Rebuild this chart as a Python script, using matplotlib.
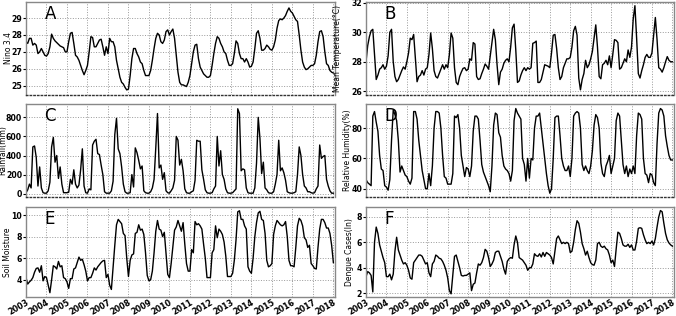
import matplotlib
matplotlib.use('Agg')
import matplotlib.pyplot as plt
import numpy as np

# monthly values, Jan 2003 .. Jan 2018
nino34 = [
    27.6, 27.5, 27.8, 27.8, 27.4, 27.5, 27.4, 26.9, 27.0, 27.2, 27.0, 26.8,
    26.75, 26.9, 27.3, 28.05, 27.8, 27.65, 27.55, 27.45, 27.35, 27.3, 27.25, 27.0,
    27.0, 27.6, 28.1, 28.15, 27.5, 26.8, 26.7, 26.5, 26.2, 25.9, 25.65, 25.9,
    26.2, 27.0, 27.9, 27.85, 27.3, 27.3, 27.5, 27.7, 27.75, 27.3, 26.8, 27.3,
    26.9, 27.8, 27.6, 27.6, 27.3, 26.5, 26.0, 25.5, 25.2, 25.1, 24.9, 24.75,
    24.8, 25.6, 26.6, 27.2, 27.2, 26.9, 26.7, 26.4, 26.3, 25.9, 25.6, 25.6,
    25.6, 25.9, 26.5, 27.2, 27.8, 28.1, 28.0, 27.6, 27.5, 27.7, 28.2, 28.3,
    28.0, 28.2, 28.35, 27.8, 26.8, 25.8, 25.2, 25.05, 25.05, 25.0, 24.95, 25.2,
    25.6, 26.3, 27.0, 27.4, 27.45, 26.6, 26.1, 25.9, 25.7, 25.6, 25.5, 25.5,
    25.6, 26.2, 26.9, 27.5, 27.9, 27.8, 27.5, 27.3, 27.0, 26.9, 26.5, 26.2,
    26.2, 26.3, 26.9, 27.65, 27.5, 26.9, 26.6, 26.6, 26.4, 26.6, 26.4, 26.1,
    26.15, 26.4, 27.2, 28.1, 28.25, 27.8, 27.1, 27.1, 27.2, 27.4, 27.3, 27.15,
    27.1, 27.3, 27.7, 28.4, 28.85, 28.95, 28.9, 29.0, 29.15, 29.4, 29.6, 29.4,
    29.3, 29.1, 28.9, 28.8, 28.0, 27.1, 26.4, 26.1, 25.95, 26.0, 26.1, 26.2,
    26.2, 26.3, 26.8, 27.6, 28.2, 28.25, 27.9, 27.0, 26.3, 26.2, 25.9, 25.8,
    25.75,
]

mean_temp = [
    28.0, 29.1, 29.7, 30.1, 30.2, 28.5, 26.8, 27.1, 27.5, 27.6, 27.8, 27.5,
    27.7, 28.4, 30.0, 30.2, 28.0, 27.0, 26.65, 26.8, 27.1, 27.4, 27.65, 27.5,
    28.0, 28.6, 29.6, 29.5, 29.85, 28.3, 26.65, 27.0, 27.1, 27.4, 27.1, 27.5,
    27.6, 28.5, 29.95, 28.9, 27.4, 27.0, 26.9, 27.2, 27.5, 27.8, 27.5, 27.8,
    27.6, 28.5, 29.95, 29.6, 27.6, 26.6, 26.45, 27.0, 27.3, 27.55, 27.6, 27.4,
    27.5, 28.2, 28.1, 29.3, 29.2, 27.0, 26.8, 26.85, 27.2, 27.5, 27.85, 27.7,
    27.5, 28.4, 29.3, 30.2, 29.5, 27.8, 26.45, 27.3, 27.5, 27.9, 28.1, 28.2,
    28.0, 29.0, 30.3, 30.55, 28.8, 26.6, 26.7, 27.1, 27.4, 27.6, 27.4, 27.6,
    27.5, 27.6, 29.25, 29.3, 29.4, 26.6, 26.6, 26.8, 27.3, 27.8, 27.75, 27.7,
    27.6, 28.6, 29.8, 29.85, 28.9, 27.6, 26.8, 27.0, 27.6, 27.9, 28.2, 28.2,
    28.3, 29.0, 30.1, 30.4, 29.8, 26.9, 26.1, 26.8, 27.2, 28.1, 27.6, 27.8,
    28.2, 28.7, 29.6, 30.5, 29.0, 27.0, 26.85, 27.8, 27.9, 28.1, 27.8, 28.4,
    27.6, 28.5, 29.5, 29.45, 29.3, 27.5, 27.6, 27.9, 28.2, 28.0, 28.8, 28.3,
    29.0, 30.9, 31.8, 29.6, 27.2, 26.9, 27.4, 27.8, 28.3, 28.5, 28.3, 28.3,
    28.6, 29.8, 31.0, 29.5, 27.6, 27.5, 27.3, 27.6, 28.0, 28.35, 28.1, 28.0,
    28.0,
]

rainfall = [
    10, 40, 100, 60, 490, 500, 380, 80, 280, 60, 10, 5,
    5, 30, 120, 490, 590, 330, 400, 160, 280, 100, 10, 10,
    10, 15, 150, 100, 250, 100, 60, 90, 250, 470, 80, 10,
    5, 50, 40, 510, 550, 570, 420, 410, 300, 200, 20, 5,
    5, 5, 30, 130, 620, 790, 470, 420, 280, 100, 20, 5,
    5, 10, 200, 70, 480, 430, 350, 260, 290, 30, 10, 5,
    5, 20, 60, 150, 480, 840, 270, 300, 150, 220, 30, 10,
    5, 30, 60, 140, 600, 560, 300, 360, 240, 50, 10, 5,
    5, 20, 30, 140, 560, 550, 550, 250, 150, 40, 10, 5,
    5, 10, 50, 80, 600, 290, 450, 200, 150, 50, 10, 5,
    5, 10, 30, 50, 890, 840, 240, 260, 250, 60, 10, 5,
    5, 5, 60, 320, 800, 580, 210, 330, 60, 40, 10, 5,
    5, 20, 100, 200, 560, 240, 270, 220, 140, 20, 10, 5,
    5, 10, 20, 200, 490, 400, 200, 80, 60, 20, 20, 10,
    5, 10, 50, 80, 510, 370, 390, 400, 150, 80, 30, 5,
    5,
]

humidity = [
    46, 44, 43, 42, 88, 91, 84, 78, 62, 53, 52, 42,
    41, 39, 46, 72, 92, 89, 85, 72, 51, 55, 52, 49,
    48, 45, 43, 47, 91, 91, 86, 72, 62, 52, 46, 40,
    40, 50, 42, 55, 80, 91, 91, 90, 80, 62, 48, 47,
    43, 43, 43, 50, 88, 87, 89, 80, 62, 55, 48, 54,
    53, 48, 55, 78, 88, 88, 86, 72, 56, 51, 48, 45,
    42, 38, 55, 82, 90, 89, 77, 74, 62, 55, 53, 52,
    50, 45, 52, 85, 93, 90, 88, 86, 60, 56, 45, 60,
    47, 60, 59, 80, 88, 88, 90, 80, 70, 60, 50, 42,
    37, 40, 60, 87, 88, 88, 75, 60, 55, 52, 52, 55,
    48, 60, 88, 90, 91, 90, 80, 56, 52, 55, 52, 50,
    55, 65, 82, 89, 87, 80, 57, 50, 48, 55, 58, 62,
    50, 55, 60, 85, 90, 88, 72, 56, 50, 55, 48, 53,
    50, 55, 50, 75, 90, 89, 86, 60, 50, 49, 44, 50,
    49, 44, 42, 70, 90, 93, 92, 88, 75, 68, 62, 59,
    59,
]

soil_moisture = [
    4.2, 3.6, 3.8, 3.95, 4.2, 4.7, 5.05, 5.1, 4.7, 5.3, 3.9, 4.3,
    4.2, 3.5, 2.8, 4.0, 5.3, 5.2, 5.0, 5.7, 5.2, 5.3, 4.2, 4.1,
    3.8, 3.2, 4.1, 4.1, 5.0, 5.1, 5.6, 6.1, 5.8, 5.9, 5.4, 4.8,
    3.9, 4.2, 4.2, 4.6, 5.1, 4.9, 5.2, 5.4, 5.6, 5.75, 5.8, 4.2,
    4.5, 3.5, 3.1, 5.2, 7.2, 9.1, 9.6, 9.4, 9.2, 8.3, 8.1, 6.0,
    4.3, 5.8, 6.3, 6.4, 8.3, 8.4, 9.1, 8.6, 8.7, 8.2, 6.5, 4.4,
    3.9, 4.0, 4.8, 6.5, 8.5, 9.5, 8.7, 8.6, 8.0, 8.4, 6.5, 4.5,
    4.2, 5.5, 7.1, 8.6, 8.9, 9.5, 9.0, 8.5, 9.3, 7.3, 5.5, 4.8,
    4.8, 6.8, 6.5, 9.4, 9.1, 9.2, 9.0, 8.7, 7.3, 6.0, 4.2, 4.2,
    4.2, 6.5, 6.8, 9.0, 7.9, 8.7, 8.5, 8.2, 7.5, 6.2, 4.3, 4.3,
    4.3, 4.6, 5.8, 7.7, 10.3, 10.4, 9.6, 9.6, 9.0, 8.7, 5.2, 4.8,
    4.6, 6.0, 8.0, 9.3, 10.2, 10.35, 9.6, 9.5, 8.3, 5.8, 5.2, 5.3,
    5.5, 8.2, 9.0, 9.5, 9.3, 9.1, 9.0, 9.1, 9.4, 8.0, 5.8, 5.3,
    5.3, 5.2, 7.0, 9.0, 9.7, 9.5, 9.0, 7.9, 7.7, 7.0, 7.2, 5.5,
    5.3, 5.05, 5.0, 7.0, 8.7, 9.6, 9.6, 9.3, 8.8, 8.8, 8.3, 7.2,
    5.6,
]

dengue_ln = [
    3.3, 3.7, 3.6, 3.4, 2.1, 6.0, 7.2, 6.7, 5.8, 5.3, 4.8, 4.4,
    3.3, 3.3, 3.5, 3.05, 3.5, 5.3, 6.4, 5.4, 5.0, 4.6, 4.3, 4.4,
    4.2, 3.8, 3.2, 3.1, 4.4, 4.6, 4.8, 5.0, 5.0, 4.9, 4.6, 4.3,
    4.4, 3.6, 3.3, 4.3, 4.5, 5.0, 4.9, 4.75, 4.7, 4.5, 4.2, 3.8,
    3.2, 2.2, 1.95, 3.4, 4.9, 5.0, 4.5, 4.0, 3.4, 3.35, 3.4, 3.4,
    3.5, 3.6, 2.2, 2.7, 2.8, 3.6, 4.3, 4.2, 4.4, 4.8, 5.45, 5.3,
    4.8, 4.1, 4.3, 4.6, 5.2, 5.3, 5.3, 4.9, 4.5, 3.9, 3.5, 4.5,
    4.7, 4.8, 4.75, 5.8, 6.5, 6.0, 4.8, 4.7, 4.6, 4.4, 4.2, 3.8,
    4.0, 4.0, 4.3, 5.1, 4.95, 4.9, 5.1, 4.85, 5.2, 4.9, 5.2, 5.1,
    5.0, 4.8, 4.3, 5.3, 6.3, 6.5, 6.2, 5.9, 6.0, 5.9, 6.0, 5.9,
    5.2, 5.3, 6.0, 7.0, 7.7, 7.5, 6.8, 5.9, 5.5, 5.0, 5.3, 4.8,
    4.4, 4.25, 4.2, 4.6, 5.9, 6.0, 5.7, 5.6, 5.7, 5.5, 5.4, 5.0,
    4.4, 4.6, 4.1, 5.5, 6.8, 6.7, 6.3, 5.8, 5.7, 5.7, 5.85, 5.6,
    5.8, 5.4, 5.4, 6.1, 7.1, 7.15, 7.1, 6.6, 6.2, 5.9, 6.0, 5.9,
    6.1, 5.8, 6.3, 7.2, 8.0, 8.5, 8.4, 7.5, 6.7, 6.2, 5.95, 5.8,
    5.7,
]

years = list(range(2003, 2019))

panels = [
    ('A', nino34, 'Nino 3.4', (24.45, 29.95), [25, 26, 27, 28, 29]),
    ('B', mean_temp, 'Mean Temperature(\u00b0C)', (25.75, 32.05), [26, 28, 30, 32]),
    ('C', rainfall, 'Rainfall(mm)', (-35, 940), [0, 200, 400, 600, 800]),
    ('D', humidity, 'Relative Humidity(%)', (34.5, 96), [40, 60, 80]),
    ('E', soil_moisture, 'Soil Moisture', (2.4, 10.75), [4, 6, 8, 10]),
    ('F', dengue_ln, 'Dengue Cases(ln)', (1.7, 8.78), [2, 4, 6, 8]),
]

# axes boxes in pixels (left, top, right, bottom)
W, H = 676, 316
boxes = [
    (26, 2, 335, 95), (366, 2, 674, 95),
    (26, 104, 335, 197), (366, 104, 674, 197),
    (26, 207, 335, 297), (366, 207, 674, 297),
]
# ylabel positions (axes fraction)
label_x = [-0.043, -0.077, -0.06, -0.047, -0.046, -0.04]

fig = plt.figure(figsize=(6.76, 3.16), dpi=100)

for i, (letter, vals, ylabel, ylim, yticks) in enumerate(panels):
    x0, y0, x1, y1 = boxes[i]
    ax = fig.add_axes([x0 / W, 1 - y1 / H, (x1 - x0) / W, (y1 - y0) / H])
    t = 2003 + np.arange(len(vals)) / 12.0
    ax.plot(t, vals, color='black', lw=1.0)
    ax.set_xlim(2003, 2018.08)
    ax.set_ylim(*ylim)
    ax.set_yticks(yticks)
    ax.set_xticks(years)
    ax.grid(True, linestyle=':', color='#999999', lw=0.7)
    for s in ax.spines.values():
        s.set_color('#888888')
        s.set_linewidth(1.0)
    ax.tick_params(axis='y', labelsize=5.6, length=2, width=0.8, pad=0.8)
    for lab in ax.get_yticklabels():
        lab.set_fontweight('bold')
    ax.set_ylabel(ylabel, fontsize=5.5)
    ax.yaxis.set_label_coords(label_x[i], 0.5)
    ax.text(0.06, 0.87, letter, transform=ax.transAxes, fontsize=12,
            va='center', ha='left')
    if i < 4:
        ax.tick_params(axis='x', labelbottom=False, length=0)
        ax.spines['bottom'].set_linestyle(':')
        ax.spines['bottom'].set_color('#333333')
    else:
        ax.tick_params(axis='x', labelsize=5.8, length=0, pad=0.5)
        ax.set_xticklabels([str(y) for y in years], rotation=30, ha='right',
                           fontweight='bold', rotation_mode='anchor')

fig.savefig('out.png', dpi=100)
